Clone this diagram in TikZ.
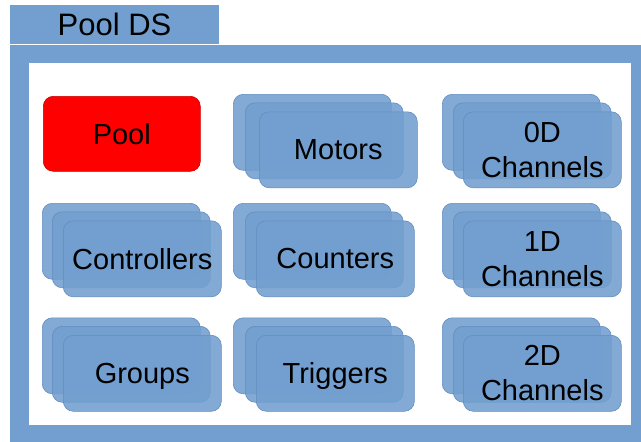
\documentclass[tikz,border=0pt]{standalone}
\usepackage{fontspec}
\setmainfont{Liberation Sans}
\definecolor{frameblue}{RGB}{114,159,207}
\definecolor{boxblue}{RGB}{114,159,207}
\definecolor{boxedge}{RGB}{98,140,192}
\definecolor{pooledge}{RGB}{200,0,0}
\tikzset{
  lbl/.style={font=\fontsize{29}{35}\selectfont, align=center, text=black},
  oneline/.style={text depth=0pt},
  twoline/.style={},
  card/.style={draw=boxedge, line width=0.6pt, fill=boxblue, fill opacity=0.88, text opacity=1,
    rounded corners=10pt, minimum width=158pt, minimum height=76pt, anchor=north west, inner sep=0pt},
  poolbox/.style={draw=pooledge, line width=0.6pt, fill=red, rounded corners=10pt,
    minimum width=157pt, minimum height=75pt, anchor=north west, inner sep=0pt},
}
\begin{document}
\begin{tikzpicture}[x=1pt,y=-1pt]
\useasboundingbox (0,0) rectangle (641,442);
\clip (0,0) rectangle (641,442);
% title tab
\fill[frameblue] (10,5) rectangle (219,44);
\node[lbl, font=\fontsize{31}{36}\selectfont] (title) at (114.5,24.5) {Pool DS};
% frame
\fill[frameblue] (10,45) rectangle (660,460);
\fill[white] (29,63) rectangle (631,425);
% pool
\node[poolbox, lbl, oneline] (pool) at (43,96) {Pool};
% stacks: back at (x,y), middle +(mx,8.5), front +(fx,17.5)
\foreach \nm/\x/\y/\mx/\fx/\sty/\txt in {
  motors/233/94/12/26/oneline/Motors,
  zerod/442/94/11/21/twoline/{0D\\Channels},
  ctrl/42/203/10/21/oneline/Controllers,
  counters/233/203/12/23/oneline/Counters,
  oned/442/203/11/21/twoline/{1D\\Channels},
  groups/42/317.5/10/21/oneline/Groups,
  triggers/233/317.5/12/23/oneline/Triggers,
  twod/442/317.5/11/21/twoline/{2D\\Channels}}{
  \node[card] (\nm-back) at (\x,\y) {};
  \node[card] (\nm-mid) at (\x+\mx,\y+8.5) {};
  \node[card, lbl, \sty] (\nm) at (\x+\fx,\y+17.5) {\txt};
}
\end{tikzpicture}
\end{document}
